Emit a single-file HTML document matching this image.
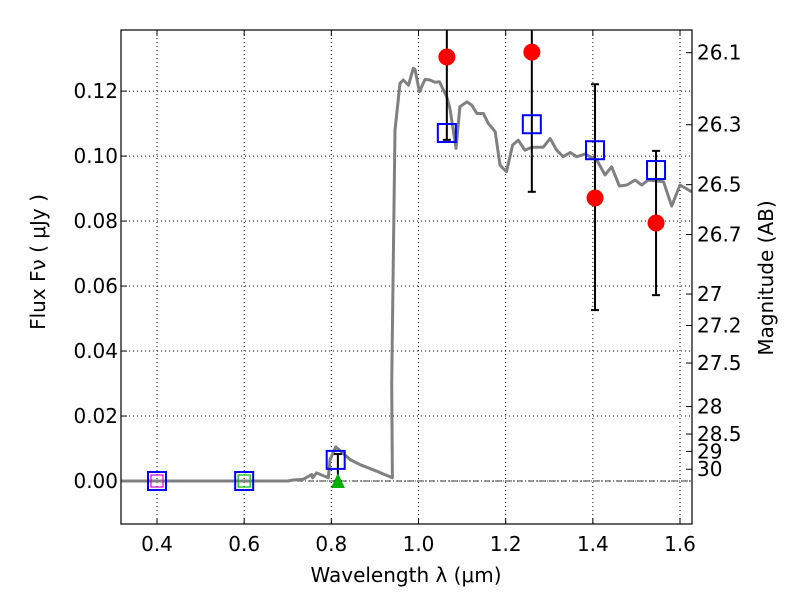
<!DOCTYPE html>
<html><head><meta charset="utf-8"><style>
body{margin:0;background:#fff;}
svg text{font-family:"DejaVu Sans","Liberation Sans",sans-serif;fill:#000;}
</style></head><body>
<svg id="chart" width="800" height="600" xmlns="http://www.w3.org/2000/svg"></svg>
<script>
const sedLambda=[0.318,0.50,0.70,0.712,0.735,0.755,0.757,0.766,0.793,0.797,0.81,0.844,0.867,0.905,0.94,0.9385,0.946,0.9576,0.965,0.977,0.988,0.992,1.002,1.015,1.026,1.038,1.048,1.065,1.072,1.086,1.095,1.111,1.122,1.134,1.149,1.160,1.176,1.187,1.202,1.216,1.229,1.244,1.260,1.286,1.302,1.317,1.332,1.348,1.363,1.382,1.409,1.428,1.443,1.461,1.478,1.497,1.512,1.527,1.562,1.581,1.600,1.627];
const sedFlux=[0,0,0,0.0003,0.0005,0.002,0.001,0.0025,0.001,0.0065,0.0105,0.0065,0.005,0.003,0.001,0.03,0.108,0.1224,0.1234,0.1218,0.127,0.1267,0.1198,0.1236,0.1234,0.1227,0.1229,0.1182,0.1147,0.1024,0.1152,0.1167,0.1157,0.1131,0.1131,0.1101,0.1075,0.0972,0.0952,0.1034,0.1049,0.1018,0.1027,0.1027,0.1054,0.1018,0.0998,0.1011,0.0998,0.1006,0.0988,0.0942,0.0967,0.0908,0.0911,0.0926,0.0911,0.0926,0.0921,0.0846,0.0911,0.089];
const obsLambda=[1.065,1.26,1.405,1.545];
const obsFlux=[0.1305,0.132,0.0871,0.0794];
const errLambda=[0.815,1.065,1.26,1.405,1.545];
const errLo=[0.0,0.105,0.089,0.0526,0.0572];
const errHi=[0.0083,0.16,0.16,0.1221,0.1016];
const modelLambda=[0.4,0.6,0.81,1.065,1.26,1.405,1.545];
const modelFlux=[0,0,0.0065,0.1071,0.1098,0.1018,0.0957];
const innerLambda=[0.4,0.6];
const innerFlux=[0,0];
const innerColor=['#d000d0','#00c000'];
const triLambda=[0.815];
const triFlux=[0];
const xTicks=[0.4,0.6,0.8,1.0,1.2,1.4,1.6];
const xTickLabels=['0.4','0.6','0.8','1.0','1.2','1.4','1.6'];
const yTicks=[0,0.02,0.04,0.06,0.08,0.10,0.12];
const yTickLabels=['0.00','0.02','0.04','0.06','0.08','0.10','0.12'];
const magTicks=[26.1,26.3,26.5,26.7,27,27.2,27.5,28,28.5,29,30];
const magLabels=['26.1','26.3','26.5','26.7','27','27.2','27.5','28','28.5','29','30'];

const L=121,R=692,T=30,B=524;
const X0=0.3174,X1=1.6275,Y0=-0.01323,Y1=0.1388;
const sx=v=>L+(v-X0)/(X1-X0)*(R-L);
const sy=v=>B-(v-Y0)/(Y1-Y0)*(B-T);
const svg=document.getElementById('chart');
const NS='http://www.w3.org/2000/svg';
function mk(tag,attrs,txt){const e=document.createElementNS(NS,tag);for(const k in attrs)e.setAttribute(k,attrs[k]);if(txt!==undefined)e.textContent=txt;svg.appendChild(e);return e;}

xTicks.forEach((t,i)=>{
 const x=sx(t);
 const g=mk('line',{x1:x,x2:x,y1:T,y2:B,stroke:'#000','stroke-width':1,'stroke-dasharray':'1,3'});
 
 const tk=mk('line',{x1:x,x2:x,y1:B,y2:B-6,stroke:'#000'});
 
 const tk2=mk('line',{x1:x,x2:x,y1:T,y2:T+6,stroke:'#000'});
 
 const lb=mk('text',{x:x,y:B+27,'text-anchor':'middle','font-size':20},xTickLabels[i]);
 
});
yTicks.forEach((t,i)=>{
 const y=sy(t);
 const g=mk('line',{x1:L,x2:R,y1:y,y2:y,stroke:'#000','stroke-width':1,'stroke-dasharray':'1,3'});
 
 const tk=mk('line',{x1:L,x2:L+6,y1:y,y2:y,stroke:'#000'});
 
 const lb=mk('text',{x:L-3,y:y+7,'text-anchor':'end','font-size':20},yTickLabels[i]);
 
});
magTicks.forEach((m,i)=>{
 const f=Math.pow(10,(23.9-m)/2.5);const y=sy(f);
 const tk=mk('line',{x1:R,x2:R-6,y1:y,y2:y,stroke:'#000'});
 
 const lb=mk('text',{x:R+5,y:y+7,'font-size':20},magLabels[i]);
 
});
const zl=mk('line',{x1:L,x2:R,y1:sy(0),y2:sy(0),stroke:'#000','stroke-width':0.8,'stroke-dasharray':'6,2,1,2'});

const pts=sedLambda.map((l,i)=>sx(l).toFixed(1)+','+sy(sedFlux[i]).toFixed(1)).join(' ');
const sed=mk('polyline',{points:pts,fill:'none',stroke:'#808080','stroke-width':3,'stroke-linejoin':'round'});

errLambda.forEach((l,i)=>{
 const x=sx(l),y1=Math.max(sy(errHi[i]),T),y2=sy(errLo[i]);
 const e=mk('line',{x1:x,x2:x,y1:y1,y2:y2,stroke:'#000','stroke-width':2});
 
 [errLo[i],errHi[i]].forEach(v=>{const yy=sy(v);if(yy>T){const c=mk('line',{x1:x-4,x2:x+4,y1:yy,y2:yy,stroke:'#000','stroke-width':2});
 }});
});
obsLambda.forEach((l,i)=>{
 const c=mk('circle',{cx:sx(l),cy:sy(obsFlux[i]),r:8.5,fill:'#ff0000'});
 
});
triLambda.forEach((l,i)=>{
 const x=sx(l),y=sy(triFlux[i]);
 const p=mk('polygon',{points:`${x},${y-8} ${x-7},${y+7} ${x+7},${y+7}`,fill:'#00b000'});
 
});
innerLambda.forEach((l,i)=>{
 const r=mk('rect',{x:sx(l)-6,y:sy(innerFlux[i])-6,width:12,height:12,fill:'none',stroke:innerColor[i],'stroke-width':1.2});
 
});
modelLambda.forEach((l,i)=>{
 const r=mk('rect',{x:sx(l)-9,y:sy(modelFlux[i])-9,width:18,height:18,fill:'none',stroke:'#0000ff','stroke-width':2});
 
});
const fr=mk('rect',{x:L,y:T,width:R-L,height:B-T,fill:'none',stroke:'#000','stroke-width':1.2});

const xl=mk('text',{x:406,y:582,'text-anchor':'middle','font-size':20},'Wavelength  λ (μm)');

const yl=mk('text',{x:0,y:0,'text-anchor':'middle','font-size':20,transform:'translate(45,262) rotate(-90)'},'Flux  Fν  ( μJy )');

const ml=mk('text',{x:0,y:0,'text-anchor':'middle','font-size':20,transform:'translate(773,278) rotate(-90)'},'Magnitude (AB)');

</script>
</body></html>
